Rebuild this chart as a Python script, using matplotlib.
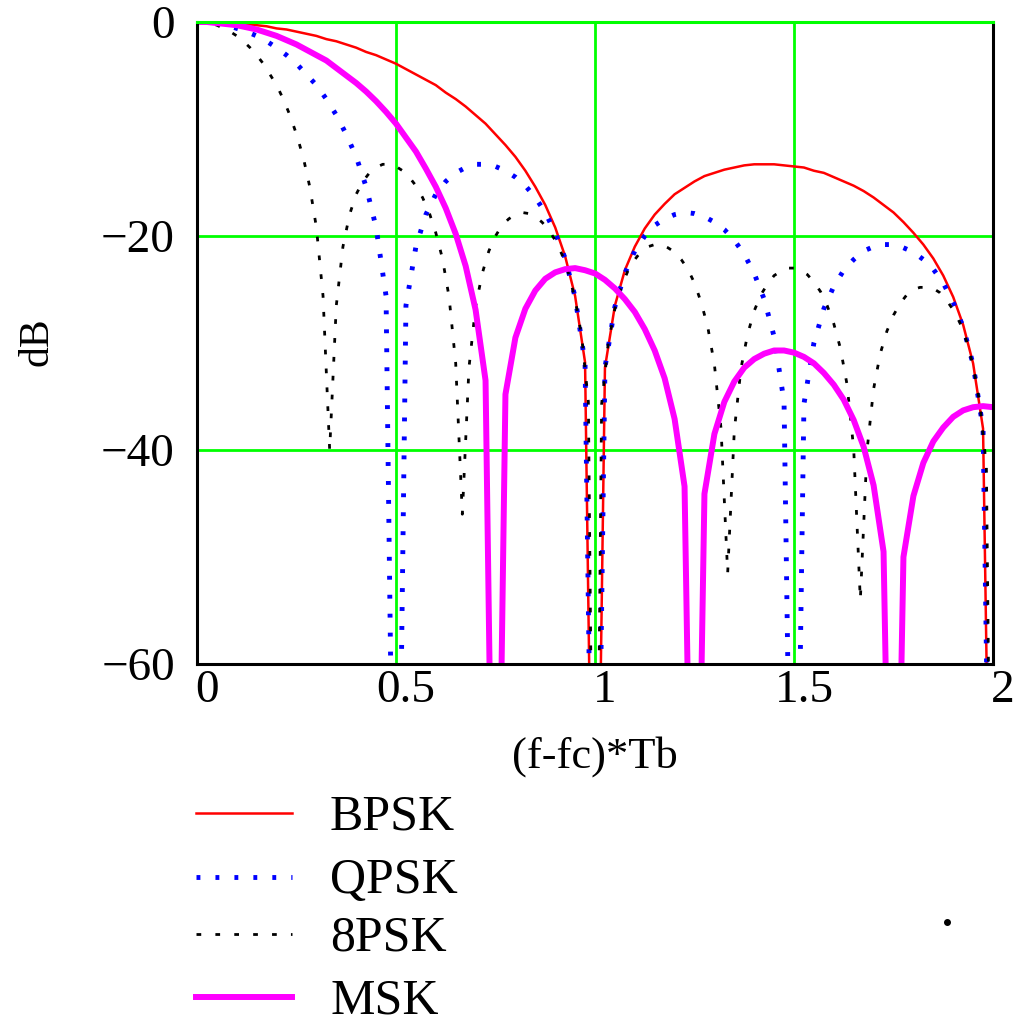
import numpy as np
import matplotlib
matplotlib.use("Agg")
import matplotlib.pyplot as plt
from matplotlib.lines import Line2D
from matplotlib.transforms import ScaledTranslation

plt.rcParams['font.family'] = ['Liberation Serif', 'DejaVu Serif']

# sample grid (f-fc)*Tb
freq = np.linspace(0, 2, 81)
freq_8 = np.linspace(0, 2, 121)

# spectra in dB (nulls below -60 are off the bottom)
bpsk_db = [0, -0.0, -0.0, -0.1, -0.1, -0.2, -0.3, -0.4, -0.6, -0.7,
           -0.9, -1.1, -1.3, -1.6, -1.8, -2.1, -2.4, -2.8, -3.1, -3.5,
           -3.9, -4.4, -4.9, -5.4, -5.9, -6.6, -7.2, -7.9, -8.7, -9.5,
           -10.5, -11.5, -12.6, -13.9, -15.4, -17.1, -19.2, -21.9, -25.6, -31.8,
           -100,
           -32.3, -26.5, -23.2, -21.0, -19.3, -18.0, -17.0, -16.1, -15.5,
           -14.9, -14.4, -14.1, -13.8, -13.6, -13.4, -13.3, -13.3, -13.3, -13.4,
           -13.5, -13.6, -13.9, -14.1, -14.5, -14.9, -15.3, -15.8, -16.4, -17.1,
           -17.8, -18.7, -19.7, -20.8, -22.1, -23.7, -25.7, -28.3, -31.9, -38.0,
           -100]

qpsk_db = [0, -0.0, -0.1, -0.3, -0.6, -0.9, -1.3, -1.8, -2.4, -3.1,
           -3.9, -4.9, -5.9, -7.2, -8.7, -10.5, -12.6, -15.4, -19.2, -25.6,
           -100,
           -26.5, -21.0, -18.0, -16.1, -14.9, -14.1, -13.6, -13.3, -13.3,
           -13.5, -13.9, -14.5, -15.3, -16.4, -17.8, -19.7, -22.1, -25.7, -31.9,
           -100,
           -32.3, -26.6, -23.5, -21.4, -20.0, -19.0, -18.4, -18.0, -17.8,
           -17.9, -18.2, -18.7, -19.4, -20.4, -21.7, -23.5, -25.9, -29.4, -35.5,
           -100,
           -35.7, -30.0, -26.8, -24.7, -23.2, -22.2, -21.4, -21.0, -20.8,
           -20.8, -21.1, -21.5, -22.2, -23.1, -24.4, -26.2, -28.5, -32.0, -38.0,
           -100]

psk8_db = [0, -0.0, -0.1, -0.3, -0.6, -0.9, -1.3, -1.8, -2.4, -3.1,
           -3.9, -4.9, -5.9, -7.2, -8.7, -10.5, -12.6, -15.4, -19.2, -25.6,
           -40.0,
           -26.5, -21.0, -18.0, -16.1, -14.9, -14.1, -13.6, -13.3, -13.3, -13.5,
           -13.9, -14.5, -15.3, -16.4, -17.8, -19.7, -22.1, -25.7, -31.9,
           -46.0,
           -32.3, -26.6, -23.5, -21.4, -20.0, -19.0, -18.4, -18.0, -17.8, -17.9,
           -18.2, -18.7, -19.4, -20.4, -21.7, -23.5, -25.9, -29.4, -35.5,
           -100,
           -35.7, -30.0, -26.8, -24.7, -23.2, -22.2, -21.4, -21.0, -20.8, -20.8,
           -21.1, -21.5, -22.2, -23.1, -24.4, -26.2, -28.5, -32.0, -38.0,
           -51.5,
           -38.2, -32.4, -29.2, -27.0, -25.5, -24.5, -23.7, -23.3, -23.0, -23.0,
           -23.2, -23.6, -24.3, -25.2, -26.5, -28.2, -30.5, -33.9, -39.9,
           -54.0,
           -40.1, -34.3, -31.0, -28.9, -27.4, -26.3, -25.5, -25.0, -24.8, -24.8,
           -24.9, -25.3, -26.0, -26.9, -28.1, -29.8, -32.1, -35.6, -41.5,
           -100]

msk_db = [0, -0.0, -0.1, -0.2, -0.3, -0.5, -0.7, -1.0, -1.3, -1.7,
          -2.1, -2.6, -3.1, -3.6, -4.3, -5.0, -5.7, -6.5, -7.4, -8.4,
          -9.5, -10.8, -12.1, -13.7, -15.4, -17.4, -19.8, -22.8, -26.9, -33.5,
          -100,
          -34.8, -29.5, -26.8, -25.1, -24.0, -23.4, -23.1, -23.0, -23.2,
          -23.5,
          -24.1, -24.9, -25.9, -27.1, -28.7, -30.7, -33.3, -37.1, -43.4,
          -100,
          -44.1, -38.5, -35.5, -33.6, -32.3, -31.5, -31.0, -30.7, -30.7,
          -30.9,
          -31.3, -31.9, -32.8, -33.9, -35.3, -37.2, -39.7, -43.3, -49.5,
          -100,
          -50.0, -44.3, -41.2, -39.2, -37.9, -36.9, -36.3, -36.0, -35.9,
          -36.0]

labels = ['BPSK', 'QPSK', '8PSK', 'MSK']
xticks = [0, 0.5, 1, 1.5, 2]
xtick_labels = ['0', '0.5', '1', '1.5', '2']
yticks = [0, -20, -40, -60]
ytick_labels = ['0', '\u221220', '\u221240', '\u221260']

W, H = 1017, 1027
fig = plt.figure(figsize=(W / 100, H / 100), dpi=100)
ax = fig.add_axes([197 / W, 1 - 664 / H, (993 - 197) / W, (664 - 22) / H])

styles = [
    dict(color='#ff0000', lw=1.8, ls='-'),
    dict(color='#0000ff', lw=3.5, ls=(0, (0.8, 3.1)), dash_capstyle='butt'),
    dict(color='black', lw=2.0, ls=(0, (1.7, 5.1)), dash_capstyle='butt'),
    dict(color='#ff00ff', lw=4.3, ls='-'),
]

series = [(freq, bpsk_db), (freq, qpsk_db), (freq_8, psk8_db), (freq, msk_db)]
for (xs, ys), st in zip(series, styles):
    ax.plot(xs, ys, **st)

ax.set_xlim(0, 2)
ax.set_ylim(-60, 0)
ax.set_xticks(xticks)
ax.set_xticklabels(xtick_labels)
ax.set_yticks(yticks)
ax.set_yticklabels(ytick_labels)
ax.tick_params(length=0, labelsize=34)
ax.tick_params(axis='x', pad=4)
ax.tick_params(axis='y', pad=16)
shift = ScaledTranslation(10 / 100, 0, fig.dpi_scale_trans)
for t in ax.get_xticklabels():
    t.set_transform(t.get_transform() + shift)

ax.set_axisbelow(True)
ax.grid(True, color='#00ff00', lw=2.0)
for side in ['left', 'right', 'bottom', 'top']:
    ax.spines[side].set_linewidth(2.2)
    ax.spines[side].set_color('black')
ax.spines['top'].set_color('#00ff00')

fig.text(595 / W, 1 - 757 / H, '(f-fc)*Tb', fontsize=32, ha='center', va='center')
fig.text(37 / W, 1 - 342 / H, 'dB', fontsize=30, rotation=90, ha='center', va='center')

# legend drawn by hand below the plot
leg_y = [813, 877, 934, 997]
for lab, st, yy in zip(labels, styles, leg_y):
    fig.add_artist(Line2D([196 / W, 292 / W], [1 - yy / H, 1 - yy / H],
                          transform=fig.transFigure, **st))
    fig.text(330 / W, 1 - (yy + 4) / H, lab, fontsize=36, ha='left', va='center')

fig.add_artist(Line2D([947 / W], [1 - 922 / H], transform=fig.transFigure,
                      marker='o', ms=4, color='black', ls='none'))

fig.savefig('out.png', dpi=100)
